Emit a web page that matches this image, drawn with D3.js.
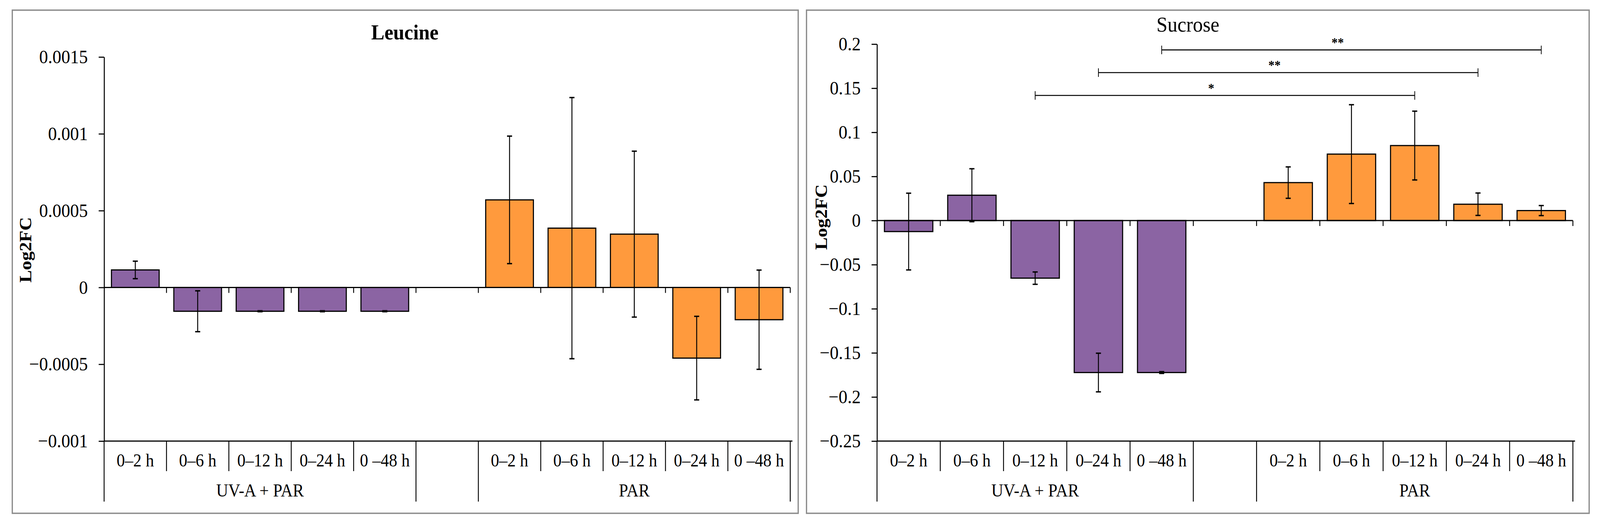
<!DOCTYPE html>
<html>
	<head>
		<title>Leucine / Sucrose Log2FC</title>
		<meta charset="UTF-8">
		<style type="text/css">
			html, body { margin: 0; padding: 0; width: 100%; height: 100%; overflow: hidden; background: #fff; }
			svg { display: block; }
			svg text { font-family: "Liberation Serif", "Times New Roman", serif; fill: #000; }
		</style>
		<script src="https://d3js.org/d3.v7.min.js"></script>
	</head>

	<body>
		<script type="text/javascript">

			// categories
			var timeLabels = ["0–2 h", "0–6 h", "0–12 h", "0–24 h", "0 –48 h"];
			var groupLabels = ["UV-A + PAR", "PAR"];

			// Leucine
			var leucineUV = [0.000114, -0.000155, -0.000155, -0.000155, -0.000155];
			var leucineUVErr = [0.000057, 0.000133, 0.000003, 0.000003, 0.000003];
			var leucinePAR = [0.000570, 0.000386, 0.000347, -0.000460, -0.000210];
			var leucinePARErr = [0.000415, 0.000850, 0.000540, 0.000272, 0.000323];
			var leucineTicks = [0.0015, 0.001, 0.0005, 0, -0.0005, -0.001];
			var leucineTickLabels = ["0.0015", "0.001", "0.0005", "0", "\u22120.0005", "\u22120.001"];

			// Sucrose
			var sucroseUV = [-0.0125, 0.0287, -0.0653, -0.1723, -0.1723];
			var sucroseUVErr = [0.0435, 0.0300, 0.0070, 0.0219, 0.0010];
			var sucrosePAR = [0.0430, 0.0753, 0.0850, 0.0185, 0.0113];
			var sucrosePARErr = [0.0178, 0.0560, 0.0390, 0.0127, 0.0057];
			var sucroseTicks = [0.2, 0.15, 0.1, 0.05, 0, -0.05, -0.1, -0.15, -0.2, -0.25];
			var sucroseTickLabels = ["0.2", "0.15", "0.1", "0.05", "0", "\u22120.05", "\u22120.1", "\u22120.15", "\u22120.2", "\u22120.25"];

			// significance brackets (sucrose), indexes into the 11 slots
			var sigFrom = [2, 3, 4];
			var sigTo = [8, 9, 10];
			var sigLevel = [0.1418, 0.1677, 0.1934];
			var sigLabel = ["*", "**", "**"];

			var purple = "#8b64a3",
				orange = "#ff9a3d";

			// 5 UV slots, 1 empty slot, 5 PAR slots
			function buildRows(uv, uvErr, par, parErr){
				var rows = [];
				uv.forEach(function(v, i){ rows.push({slot: i, value: v, err: uvErr[i], color: purple}); });
				par.forEach(function(v, i){ rows.push({slot: i + 6, value: v, err: parErr[i], color: orange}); });
				return rows;
			} // buildRows

			// drawn in a 4426x1345 frame, stretched to whatever the viewport is
			var svg = d3.select("body")
				.append("svg")
					.attr("viewBox", "0 0 4426 1345")
					.attr("preserveAspectRatio", "none")
					.attr("width", "100%")
					.attr("height", "100%");

			function plotPanel(p){

				var g = svg.append("g");

				// panel frame
				g.append("rect")
					.attr("x", p.box[0]).attr("y", p.box[1])
					.attr("width", p.box[2] - p.box[0]).attr("height", p.box[3] - p.box[1])
					.attr("fill", "#fff")
					.attr("stroke", "#8c8c8c")
					.attr("stroke-width", 3.5);

				var slots = d3.range(11);
				var x = d3.scaleBand().domain(slots)
					.range([p.left, p.right])
					.paddingInner(0.235).paddingOuter(0.1175);
				var step = x.step();

				var y = d3.scaleLinear()
					.domain([p.ticks[p.ticks.length - 1], p.ticks[0]])
					.range([p.bottom, p.top]);

				var rows = buildRows(p.uv, p.uvErr, p.par, p.parErr);

				// bars
				g.selectAll(".bar")
					.data(rows)
					.enter().append("rect")
						.attr("class", "bar")
						.attr("x", function(d){ return x(d.slot); })
						.attr("width", x.bandwidth())
						.attr("y", function(d){ return y(Math.max(0, d.value)); })
						.attr("height", function(d){ return Math.abs(y(d.value) - y(0)); })
						.attr("fill", function(d){ return d.color; })
						.attr("stroke", "#000")
						.attr("stroke-width", 3);

				// error bars
				var eb = g.selectAll(".err")
					.data(rows)
					.enter().append("g")
						.attr("class", "err")
						.attr("stroke", "#000")
						.attr("stroke-width", 2.6);
				var cx = function(d){ return x(d.slot) + x.bandwidth() / 2; };
				eb.append("line")
					.attr("x1", cx).attr("x2", cx)
					.attr("y1", function(d){ return y(d.value + d.err); })
					.attr("y2", function(d){ return y(d.value - d.err); });
				[1, -1].forEach(function(s){
					eb.append("line")
						.attr("x1", function(d){ return cx(d) - 7; })
						.attr("x2", function(d){ return cx(d) + 7; })
						.attr("y1", function(d){ return y(d.value + s * d.err); })
						.attr("y2", function(d){ return y(d.value + s * d.err); })
						.attr("stroke-width", 3.5);
				});

				// zero line with category ticks
				var bounds = d3.range(12).map(function(i){ return p.left + i * step; });
				g.append("line")
					.attr("x1", p.left).attr("x2", p.right)
					.attr("y1", y(0)).attr("y2", y(0))
					.attr("stroke", "#000").attr("stroke-width", 3);
				g.selectAll(".ztick")
					.data(bounds.slice(1))
					.enter().append("line")
						.attr("x1", function(d){ return d; }).attr("x2", function(d){ return d; })
						.attr("y1", y(0)).attr("y2", y(0) + 14)
						.attr("stroke", "#000").attr("stroke-width", 2.5);

				// y axis
				var yAxis = d3.axisLeft(y)
					.tickValues(p.ticks)
					.tickSize(15)
					.tickSizeOuter(0)
					.tickPadding(30)
					.tickFormat(function(d, i){ return p.tickLabels[i]; });
				var ya = g.append("g")
					.attr("transform", "translate(" + p.left + ",0)")
					.call(yAxis);
				ya.select(".domain").attr("stroke-width", 2.8);
				ya.selectAll(".tick line").attr("stroke-width", 2.8);
				ya.selectAll(".tick text")
					.style("font-family", "'Liberation Serif', serif")
					.attr("font-size", 49)
					.attr("fill", "#000");

				// category table below the plot
				g.append("line")
					.attr("x1", p.left).attr("x2", p.right + 6)
					.attr("y1", p.bottom).attr("y2", p.bottom)
					.attr("stroke", "#000").attr("stroke-width", 3);
				g.selectAll(".sep")
					.data(bounds)
					.enter().append("line")
						.attr("x1", function(d){ return d; }).attr("x2", function(d){ return d; })
						.attr("y1", p.bottom)
						.attr("y2", function(d, i){ return (i === 0 || i === 5 || i === 6 || i === 11) ? 1285 : 1207; })
						.attr("stroke", "#000").attr("stroke-width", 2.5);

				var catText = [];
				timeLabels.forEach(function(t, i){ catText.push({slot: i, label: t}); });
				timeLabels.forEach(function(t, i){ catText.push({slot: i + 6, label: t}); });
				g.selectAll(".cat")
					.data(catText)
					.enter().append("text")
						.attr("x", function(d){ return x(d.slot) + x.bandwidth() / 2; })
						.attr("y", 1195)
						.attr("text-anchor", "middle")
						.attr("font-size", 46)
						.text(function(d){ return d.label; });

				g.selectAll(".grp")
					.data(groupLabels)
					.enter().append("text")
						.attr("x", function(d, i){ return p.left + (i === 0 ? 2.5 : 8.5) * step; })
						.attr("y", 1272)
						.attr("text-anchor", "middle")
						.attr("font-size", 46)
						.text(function(d){ return d; });

				// titles
				g.append("text")
					.attr("x", p.titleX).attr("y", p.titleY)
					.attr("text-anchor", "middle")
					.attr("font-size", 55)
					.attr("font-weight", p.titleBold ? "bold" : "normal")
					.text(p.title);

				g.append("text")
					.attr("transform", "translate(" + p.ylabX + "," + p.ylabY + ") rotate(-90)")
					.attr("text-anchor", "middle")
					.attr("font-size", 48)
					.attr("font-weight", "bold")
					.text("Log2FC");

				// significance brackets
				if (p.sig){
					var mid = function(i){ return x(i) + x.bandwidth() / 2; };
					p.sig.from.forEach(function(f, i){
						var x1 = mid(f), x2 = mid(p.sig.to[i]), yy = y(p.sig.level[i]);
						var sg = g.append("g").attr("stroke", "#000").attr("stroke-width", 2.6);
						sg.append("line").attr("x1", x1).attr("x2", x2).attr("y1", yy).attr("y2", yy);
						sg.append("line").attr("x1", x1).attr("x2", x1).attr("y1", yy - 11).attr("y2", yy + 11).attr("stroke-width", 2);
						sg.append("line").attr("x1", x2).attr("x2", x2).attr("y1", yy - 11).attr("y2", yy + 11).attr("stroke-width", 2);
						g.append("text")
							.attr("x", (x1 + x2) / 2 - 38)
							.attr("y", yy - 8)
							.attr("text-anchor", "middle")
							.attr("font-size", 34)
							.attr("font-weight", "bold")
							.text(p.sig.label[i]);
					});
				}

			} // plotPanel

			plotPanel({
				box: [34, 26, 2208, 1315],
				left: 288, right: 2186, top: 146, bottom: 1130,
				ticks: leucineTicks, tickLabels: leucineTickLabels,
				uv: leucineUV, uvErr: leucineUVErr, par: leucinePAR, parErr: leucinePARErr,
				title: "Leucine", titleBold: true, titleX: 1120, titleY: 101,
				ylabX: 86, ylabY: 640
			});

			plotPanel({
				box: [2231, 26, 4396, 1315],
				left: 2426, right: 4351, top: 113, bottom: 1130,
				ticks: sucroseTicks, tickLabels: sucroseTickLabels,
				uv: sucroseUV, uvErr: sucroseUVErr, par: sucrosePAR, parErr: sucrosePARErr,
				title: "Sucrose", titleBold: false, titleX: 3286, titleY: 81,
				ylabX: 2288, ylabY: 556,
				sig: {from: sigFrom, to: sigTo, level: sigLevel, label: sigLabel}
			});

		</script>
	</body>
</html>
